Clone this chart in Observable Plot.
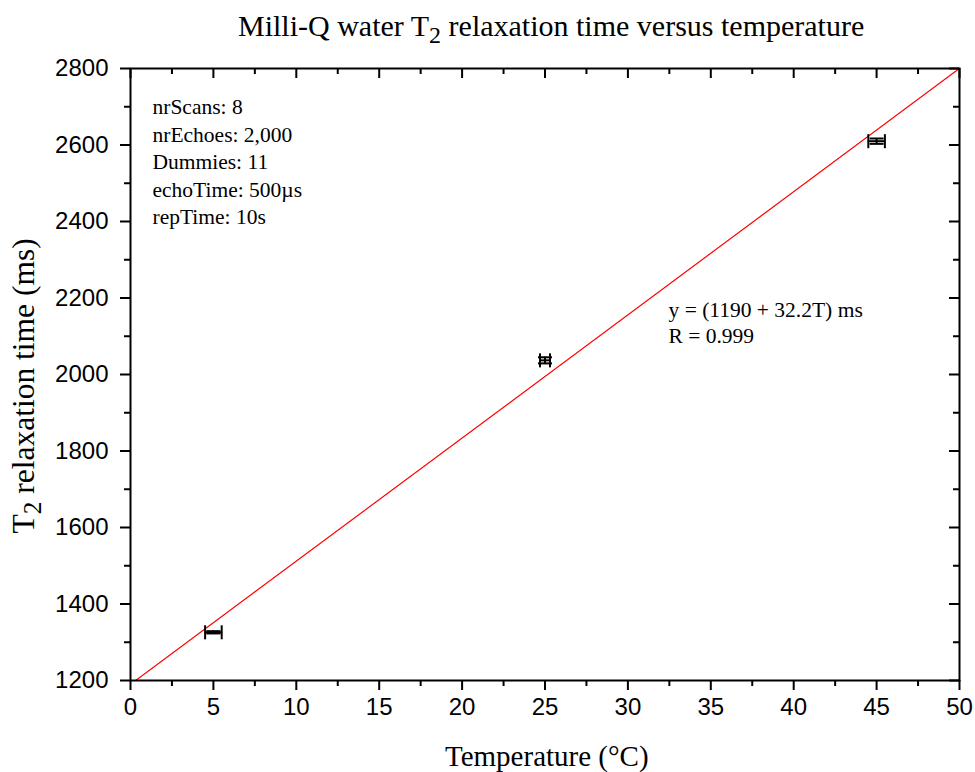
<!DOCTYPE html>
<html>
<head>
<meta charset="utf-8">
<script src="https://cdn.jsdelivr.net/npm/d3@7"></script>
<script src="https://cdn.jsdelivr.net/npm/@observablehq/plot@0.6"></script>
<style>
  html, body { margin: 0; padding: 0; background: white; }
</style>
</head>
<body>
<div id="chart"></div>
<script>
// ---- data ----
const temperatures = [5, 25, 45];          // °C
const t2Values = [1326, 2037, 2610];       // ms
const temperatureErr = [0.5, 0.3, 0.5];    // °C
const t2Err = [3, 8, 7];                   // ms

// linear fit reported on the chart: y = (1190 + 32.2T) ms
const fitIntercept = 1190;
const fitSlope = 32.2;
const fitRange = [0, 50];

const xMajorTicks = [0, 5, 10, 15, 20, 25, 30, 35, 40, 45, 50];
const xMinorTicks = [2.5, 7.5, 12.5, 17.5, 22.5, 27.5, 32.5, 37.5, 42.5, 47.5];
const yMajorTicks = [1200, 1400, 1600, 1800, 2000, 2200, 2400, 2600, 2800];
const yMinorTicks = [1300, 1500, 1700, 1900, 2100, 2300, 2500, 2700];

const titleText = "Milli-Q water T_2 relaxation time versus temperature";
const xLabel = "Temperature (°C)";
const yLabel = "T_2 relaxation time (ms)";
const settingsText = ["nrScans: 8", "nrEchoes: 2,000", "Dummies: 11", "echoTime: 500µs", "repTime: 10s"];
const fitText = ["y = (1190 + 32.2T) ms", "R = 0.999"];

// ---- build tables ----
const points = temperatures.map((T, i) => ({T, t2: t2Values[i], xe: temperatureErr[i], ye: t2Err[i]}));
const fitLine = fitRange.map(T => ({T, t2: fitIntercept + fitSlope * T}));

const serif = "'Liberation Serif', 'Times New Roman', serif";
const sans = "'Liberation Sans', Arial, sans-serif";

const vCap = {draw(ctx, size) { const h = Math.sqrt(size / Math.PI); ctx.moveTo(0, -h); ctx.lineTo(0, h); }};
const hCap = {draw(ctx, size) { const h = Math.sqrt(size / Math.PI); ctx.moveTo(-h, 0); ctx.lineTo(h, 0); }};

const noText = {fill: "none", tickFormat: () => "", label: null};

const chart = Plot.plot({
  width: 975,
  height: 772,
  marginLeft: 130,
  marginRight: 16,
  marginTop: 68,
  marginBottom: 92,
  x: {domain: [0, 50]},
  y: {domain: [1200, 2800]},
  style: {fontFamily: sans, fontSize: "24px", color: "black", background: "white", overflow: "visible"},
  marks: [
    // fit line
    Plot.line(fitLine, {x: "T", y: "t2", stroke: "red", strokeWidth: 1.2, clip: true}),
    // error bars
    Plot.ruleY(points, {y: "t2", x1: d => d.T - d.xe, x2: d => d.T + d.xe, stroke: "black", strokeWidth: 2}),
    Plot.ruleX(points, {x: "T", y1: d => d.t2 - d.ye, y2: d => d.t2 + d.ye, stroke: "black", strokeWidth: 2}),
    Plot.dot(points, {x: d => d.T - d.xe, y: "t2", symbol: vCap, r: 7, stroke: "black", fill: "none", strokeWidth: 2}),
    Plot.dot(points, {x: d => d.T + d.xe, y: "t2", symbol: vCap, r: 7, stroke: "black", fill: "none", strokeWidth: 2}),
    Plot.dot(points, {x: "T", y: d => d.t2 - d.ye, symbol: hCap, r: 7, stroke: "black", fill: "none", strokeWidth: 2}),
    Plot.dot(points, {x: "T", y: d => d.t2 + d.ye, symbol: hCap, r: 7, stroke: "black", fill: "none", strokeWidth: 2}),
    // frame
    Plot.frame({stroke: "black", strokeWidth: 2}),
    // bottom axis (outward)
    Plot.axisX(xMajorTicks, {anchor: "bottom", tickSize: 10, tickPadding: 7, strokeWidth: 2, fontSize: 24, fontFamily: sans, tickFormat: d3.format("d"), label: null}),
    Plot.axisX(xMinorTicks, {anchor: "bottom", tickSize: 6, strokeWidth: 2, ...noText}),
    // top axis (inward)
    Plot.axisX(xMajorTicks, {anchor: "bottom", frameAnchor: "top", tickSize: 10, strokeWidth: 2, ...noText}),
    Plot.axisX(xMinorTicks, {anchor: "bottom", frameAnchor: "top", tickSize: 6, strokeWidth: 2, ...noText}),
    // left axis (outward)
    Plot.axisY(yMajorTicks, {anchor: "left", tickSize: 10, tickPadding: 12, strokeWidth: 2, fontSize: 24, fontFamily: sans, tickFormat: d3.format("d"), label: null}),
    Plot.axisY(yMinorTicks, {anchor: "left", tickSize: 6, strokeWidth: 2, ...noText}),
    // right axis (inward)
    Plot.axisY(yMajorTicks, {anchor: "left", frameAnchor: "right", tickSize: 10, strokeWidth: 2, ...noText}),
    Plot.axisY(yMinorTicks, {anchor: "left", frameAnchor: "right", tickSize: 6, strokeWidth: 2, ...noText}),
    // titles
    Plot.text([titleText], {text: d => d, frameAnchor: "top", textAnchor: "start", lineAnchor: "middle", dx: -307, dy: -42, fontFamily: serif, fontSize: 30, fill: "black"}),
    Plot.text([xLabel], {text: d => d, frameAnchor: "bottom", textAnchor: "start", lineAnchor: "middle", dx: -100, dy: 76, fontFamily: serif, fontSize: 29, fill: "black"}),
    Plot.text([yLabel], {text: d => d, frameAnchor: "left", textAnchor: "start", lineAnchor: "middle", rotate: -90, dx: -107, dy: 159, fontFamily: serif, fontSize: 31.5, fill: "black"}),
    // annotations
    Plot.text([settingsText.join("\n")], {text: d => d, frameAnchor: "top-left", textAnchor: "start", lineAnchor: "top", dx: 22, dy: 26, lineHeight: 1.28, fontFamily: serif, fontSize: 21.5, fill: "black"}),
    Plot.text([fitText.join("\n")], {text: d => d, frameAnchor: "top-left", textAnchor: "start", lineAnchor: "top", dx: 538, dy: 229, lineHeight: 1.25, fontFamily: serif, fontSize: 21.5, fill: "black"})
  ]
});

// turn "T_2" markers into real subscripts
d3.select(chart).selectAll("text").each(function() {
  const s = this.textContent;
  const i = s.indexOf("_2");
  if (i < 0 || this.querySelector("tspan")) return;
  const sel = d3.select(this);
  sel.text(null);
  sel.append("tspan").text(s.slice(0, i));
  sel.append("tspan").attr("dy", 7).attr("font-size", "80%").text("2");
  sel.append("tspan").attr("dy", -7).text(s.slice(i + 2));
});

document.getElementById("chart").appendChild(chart);
</script>
</body>
</html>
